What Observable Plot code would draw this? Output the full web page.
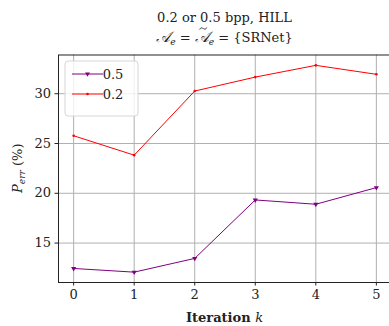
<!DOCTYPE html>
<html><head><meta charset="utf-8">
<script src="https://cdn.jsdelivr.net/npm/d3@7"></script>
<script src="https://cdn.jsdelivr.net/npm/@observablehq/plot@0.6"></script>
<style>
body{margin:0;background:#fff;}
#wrap{position:relative;width:389px;height:326px;overflow:hidden;}
</style></head><body><div id="wrap"></div>
<script>
const iterations = [0, 1, 2, 3, 4, 5];
const perr05 = [12.45, 12.08, 13.46, 19.33, 18.90, 20.57];
const perr02 = [25.78, 23.83, 30.27, 31.67, 32.85, 31.95];
const seriesNames = ["0.5", "0.2"];
const seriesColors = ["purple", "red"];
const xTicks = [0, 1, 2, 3, 4, 5];
const yTicks = [15, 20, 25, 30];
const titleLine1 = "0.2 or 0.5 bpp, HILL";

const d05 = iterations.map((k, i) => ({k, v: perr05[i]}));
const d02 = iterations.map((k, i) => ({k, v: perr02[i]}));

const W = 389, H = 326;
const mL = 58, mR = -2, mT = 54.5, mB = 44;
const fs = 13;
const FONT = "'DejaVu Serif', serif";

const plot = Plot.plot({
  width: W, height: H,
  marginLeft: mL, marginRight: mR, marginTop: mT, marginBottom: mB,
  style: {fontSize: fs + "px", fontFamily: FONT, color: "#222", background: "#fff"},
  x: {domain: [-0.25, 5.25], range: [mL, W - mR]},
  y: {domain: [11.04, 33.89], range: [H - mB, mT]},
  marks: [
    Plot.gridX(xTicks, {stroke: "#b0b0b0", strokeOpacity: 1, strokeWidth: 1}),
    Plot.gridY(yTicks, {stroke: "#b0b0b0", strokeOpacity: 1, strokeWidth: 1}),
    Plot.line(d05, {x: "k", y: "v", stroke: seriesColors[0], strokeWidth: 1}),
    Plot.dot(d05, {x: "k", y: "v", symbol: "triangle", rotate: 180, r: 1.9, fill: seriesColors[0], stroke: "none"}),
    Plot.line(d02, {x: "k", y: "v", stroke: seriesColors[1], strokeWidth: 1}),
    Plot.dot(d02, {x: "k", y: "v", r: 1.3, fill: seriesColors[1], stroke: "none"}),
    Plot.frame({stroke: "#222", strokeWidth: 1}),
    Plot.axisX(xTicks, {tickSize: 3.5, tickPadding: 4, label: null, tickFormat: d => String(d), fontSize: fs}),
    Plot.axisY(yTicks, {tickSize: 3.5, tickPadding: 4, label: null, tickFormat: d => String(d), fontSize: fs})
  ]
});
document.getElementById("wrap").appendChild(plot);

const svg = d3.select(plot);
const cx = (mL + W - mR) / 2;
function txt(sel) { return sel.attr("font-family", FONT).attr("font-size", fs).attr("fill", "#222"); }

// titles
txt(svg.append("text")).attr("x", cx).attr("y", 22).attr("text-anchor", "middle").text(titleLine1);
const t2 = txt(svg.append("text")).attr("x", cx).attr("y", 42).attr("text-anchor", "middle");
t2.append("tspan").attr("font-style", "italic").attr("font-size", fs * 1.15).text("𝒜");
t2.append("tspan").attr("font-size", fs * 0.7).attr("dy", 3).attr("font-style", "italic").text("e");
t2.append("tspan").attr("dy", -3).text(" = ");
t2.append("tspan").attr("font-style", "italic").attr("font-size", fs * 1.15).text("𝒜");
t2.append("tspan").attr("font-size", fs * 0.7).attr("dy", 3).attr("font-style", "italic").text("e");
t2.append("tspan").attr("dy", -3).text(" = {SRNet}");
// tilde accent over second A, drawn as a small path
try {
  const n = t2.node();
  const tsp = t2.selectAll("tspan").nodes();
  let start = 0;
  for (let i = 0; i < 3; i++) start += tsp[i].getNumberOfChars();
  const ext = n.getExtentOfChar(start);
  const tx = ext.x + ext.width / 2 + 1.5, ty = ext.y + 0.5;
  svg.append("path")
    .attr("d", `M${tx - 3.5},${ty + 1} C${tx - 2.5},${ty - 1.5} ${tx - 1},${ty - 0.5} ${tx},${ty} S${tx + 2.5},${ty + 1.5} ${tx + 3.5},${ty - 1}`)
    .attr("fill", "none").attr("stroke", "#222").attr("stroke-width", 0.9);
} catch (e) {}

// x label
const xl = txt(svg.append("text")).attr("x", cx).attr("y", 322).attr("text-anchor", "middle");
xl.append("tspan").attr("font-weight", "bold").text("Iteration ");
xl.append("tspan").attr("font-style", "italic").text("k");

// y label
const ymid = (mT + H - mB) / 2;
const yl = txt(svg.append("text")).attr("transform", `translate(22,${ymid}) rotate(-90)`).attr("text-anchor", "middle");
yl.append("tspan").attr("font-style", "italic").text("P");
yl.append("tspan").attr("font-style", "italic").attr("font-size", fs * 0.7).attr("dy", 3).text("err");
yl.append("tspan").attr("dy", -3).text(" (%)");

// legend
const lg = svg.append("g").attr("transform", "translate(65,61)");
lg.append("rect").attr("width", 73).attr("height", 55).attr("rx", 3)
  .attr("fill", "rgba(255,255,255,0.8)").attr("stroke", "#d6d6d6").attr("stroke-width", 1);
seriesNames.forEach((name, i) => {
  const y = 13 + i * 20;
  lg.append("line").attr("x1", 7).attr("x2", 38).attr("y1", y).attr("y2", y)
    .attr("stroke", seriesColors[i]).attr("stroke-width", 1);
  if (i === 0) {
    lg.append("path").attr("d", d3.symbol(d3.symbolTriangle, 10)()).attr("transform", `translate(22.5,${y}) rotate(180)`).attr("fill", seriesColors[i]);
  } else {
    lg.append("circle").attr("cx", 22.5).attr("cy", y).attr("r", 1.3).attr("fill", seriesColors[i]);
  }
  txt(lg.append("text")).attr("x", 48).attr("y", y).attr("dy", "0.35em").text(name);
});
</script></body></html>
